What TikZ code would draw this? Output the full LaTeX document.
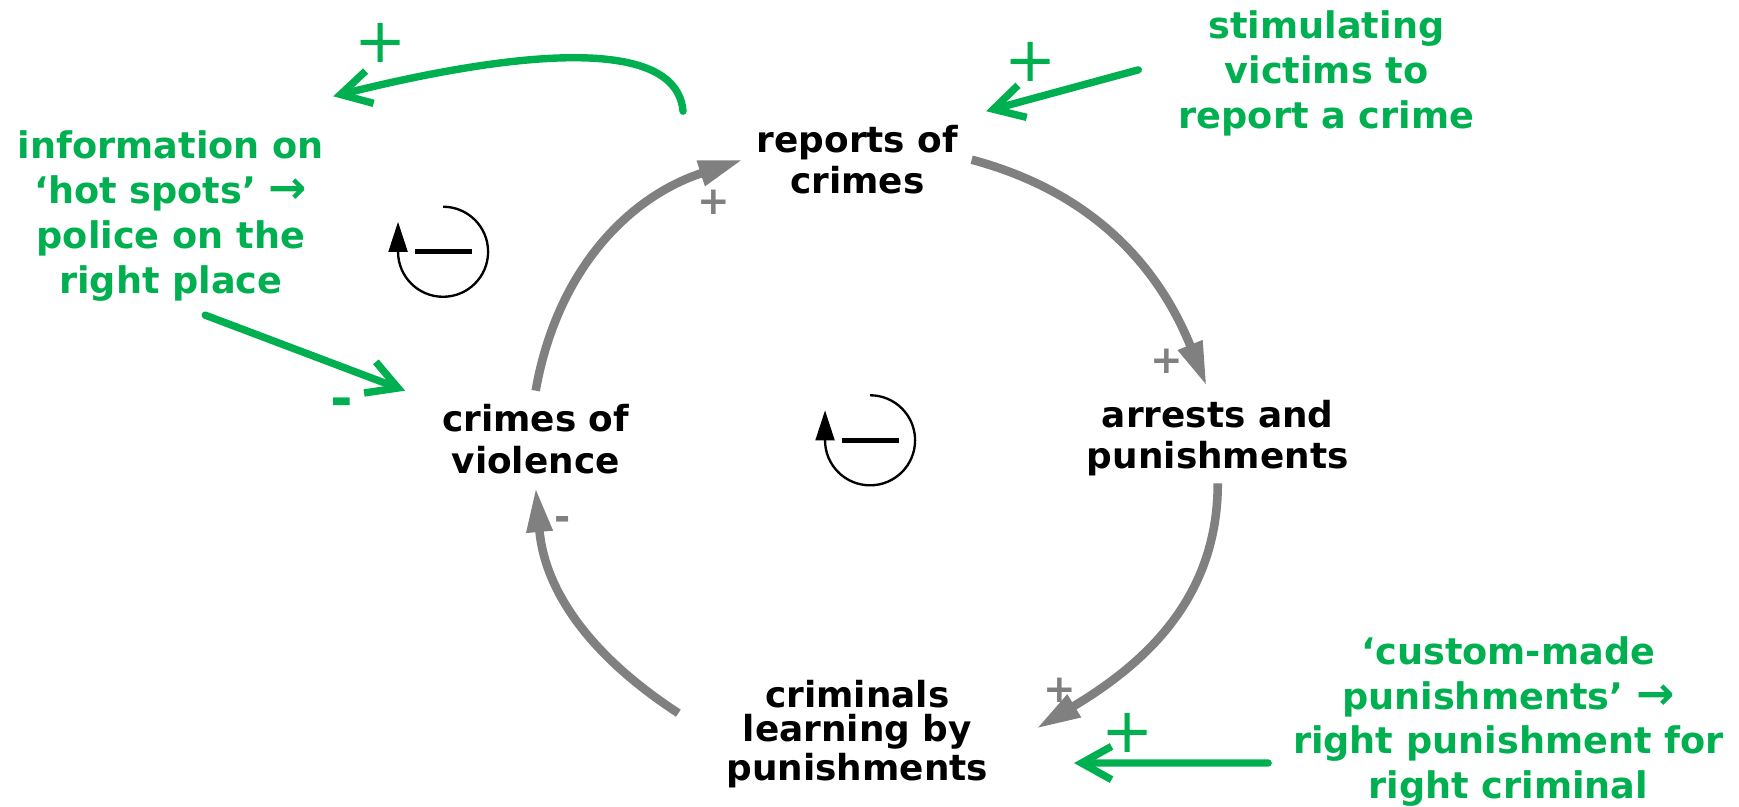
\documentclass[tikz,border=0pt]{standalone}
\usepackage{fontspec}
\setmainfont{DejaVu Sans}
\usetikzlibrary{arrows.meta}
\definecolor{effgreen}{RGB}{0,176,80}

\tikzset{
	var/.style={align=center, font=\fontsize{9.2}{10.7}\selectfont\bfseries},
	ext/.style={align=center, text=effgreen, font=\fontsize{9.4}{11.5}\selectfont\bfseries},
	link/.style={draw=gray, line width=2.2pt, -{Triangle[length=0.4cm,width=0.22cm]}},
	push/.style={draw=effgreen, line width=1.9pt, line cap=round, -{Straight Barb[length=0.27cm,width=0.3cm]}},
	sgn/.style={text=gray, font=\fontsize{10}{12}\selectfont\bfseries},
	bigsgn/.style={text=effgreen, font=\fontsize{16}{18}\selectfont},
}

\begin{document}
\begin{tikzpicture}
			\useasboundingbox (0,0) rectangle (15.68,7.27);

			% the loop
			\node[var] (rep) at (7.73,5.83) {reports of\\crimes};
			\node[var] (arr) at (10.98,3.32) {arrests and\\punishments};
			\node[var, font=\fontsize{9.2}{8.7}\selectfont\bfseries] (crim) at (7.73,0.65) {criminals\\learning by\\punishments};
			\node[var] (viol) at (4.83,3.31) {crimes of\\violence};

			\draw[link] (viol.north) to[out=80,in=198] (rep.west);
			\draw[link] (rep.east) to[out=-15,in=112] ([xshift=-0.1cm]arr.north);
			\draw[link] ([yshift=0.06cm]arr.south) to[out=-90,in=31] ([xshift=0.31cm,yshift=0.05cm]crim.east);
			\draw[link] ([xshift=-0.31cm,yshift=0.19cm]crim.west) to[out=147,in=-85] (viol.south);

			\node[sgn] (s1) at (6.44,5.45) {+};
			\node[sgn] (s2) at (10.52,4.01) {+};
			\node[sgn] (s3) at (9.56,1.05) {+};
			\node[sgn] (s4) at (5.07,2.55) {-};

			% balancing loop marks
			\foreach \x/\y in {3.995/5.0, 7.845/3.3} {
				\draw[line width=0.6pt, -{Triangle[length=0.27cm,width=0.17cm]}] (\x,\y+0.406) arc[start angle=90,end angle=-180,radius=0.406] -- ++(0,0.27);
				\draw[line width=1.3pt] (\x-0.25,\y) -- (\x+0.26,\y);
			}

			% outside measures
			\node[ext] (stim) at (11.96,6.61) {stimulating\\victims to\\report a crime};
			\node[ext] (info) at (1.54,5.32) {information on\\‘hot spots’ \scalebox{1.25}{→}\\police on the\\right place};
			\node[ext] (cust) at (13.60,0.765) {‘custom-made\\punishments’ \scalebox{1.25}{→}\\right punishment for\\right criminal};

			\draw[push] ([xshift=-0.54cm]rep.north west) to[out=95,in=14,looseness=0.7] ([xshift=-0.04cm,yshift=0.19cm]info.north east);
			\draw[push] ([xshift=-0.24cm,yshift=0.03cm]stim.west) -- ([xshift=0.13cm]rep.north east);
			\draw[push] ([xshift=0.31cm]info.south) -- ([xshift=-0.21cm]viol.north west);
			\draw[push] ([xshift=-0.1cm,yshift=-0.375cm]cust.west) -- ([xshift=0.65cm,yshift=-0.26cm]crim.east);

			\node[bigsgn] (g1) at (3.43,6.88) {+};
			\node[bigsgn] (g2) at (9.29,6.71) {+};
			\node[bigsgn] (g3) at (10.17,0.66) {+};
			\node[bigsgn, font=\fontsize{14}{16}\selectfont\bfseries] (g4) at (3.08,3.59) {-};
		\end{tikzpicture}
\end{document}
